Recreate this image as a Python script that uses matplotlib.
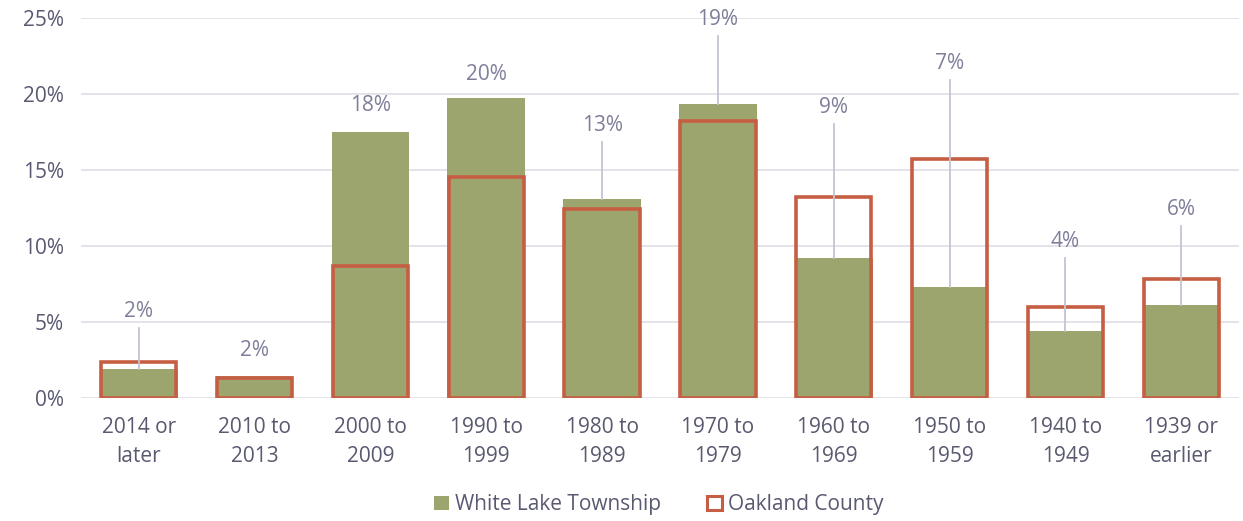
import numpy as np
import matplotlib
matplotlib.use("Agg")
import matplotlib.pyplot as plt
from matplotlib.patches import Patch

plt.rcParams['font.family'] = ['Open Sans', 'DejaVu Sans']

# data
categories = ["2014 or\nlater", "2010 to\n2013", "2000 to\n2009", "1990 to\n1999", "1980 to\n1989",
              "1970 to\n1979", "1960 to\n1969", "1950 to\n1959", "1940 to\n1949", "1939 or\nearlier"]
white_lake = [1.9, 1.45, 17.5, 19.7, 13.1, 19.3, 9.2, 7.3, 4.4, 6.1]
oakland = [2.4, 1.3, 8.7, 14.5, 12.4, 18.2, 13.2, 15.7, 6.0, 7.8]
value_labels = ["2%", "2%", "18%", "20%", "13%", "19%", "9%", "7%", "4%", "6%"]
# where the data labels sit (in % units)
label_heights = [5.7, 3.15, 19.2, 21.3, 17.9, 24.9, 19.1, 22.0, 10.3, 12.4]

GREEN = "#9CA56E"
RED = "#C55E42"
TEXT = "#595970"
LABEL = "#7E7E9A"
GRID = "#E2E0E8"
LEADER = "#C4C3D2"

fig = plt.figure(figsize=(12.43, 5.21), dpi=100)
ax = fig.add_axes([0.065, 0.236, 0.932, 0.73])

x = np.arange(len(categories))
width = 0.67
ax.bar(x, white_lake, width, color=GREEN, zorder=2)
ax.bar(x, oakland, width - 0.02, fill=False, edgecolor=RED, linewidth=2.6, zorder=3)

for xi, v, lab, ly in zip(x, white_lake, value_labels, label_heights):
    ax.text(xi, ly, lab, ha="center", va="center", fontsize=15, color=LABEL, zorder=5)
    top = ly - 1.1
    if top - v > 1.0:
        ax.plot([xi, xi], [v, top], color=LEADER, linewidth=1.3, zorder=4)

ax.set_xlim(-0.5, len(categories) - 0.5)
ax.set_ylim(0, 25)
ax.set_yticks(np.arange(0, 26, 5))
ax.set_yticklabels([f"{t}%" for t in range(0, 26, 5)])
ax.set_xticks(x)
ax.set_xticklabels(categories, linespacing=1.45)
ax.tick_params(axis="both", length=0, labelsize=15, colors=TEXT)
ax.tick_params(axis="x", pad=14)
ax.tick_params(axis="y", pad=12)
ax.grid(axis="y", color=GRID, linewidth=1.3, zorder=0)
ax.set_axisbelow(True)
for s in ax.spines.values():
    s.set_visible(False)

handles = [Patch(facecolor=GREEN, edgecolor="none", label="White Lake Township"),
           Patch(facecolor="white", edgecolor=RED, linewidth=2.2, label="Oakland County")]
fig.legend(handles=handles, loc="lower center", bbox_to_anchor=(0.53, -0.025), ncol=2,
           frameon=False, fontsize=15, labelcolor=TEXT, handlelength=0.7, handleheight=0.7,
           handletextpad=0.3, columnspacing=2.2)

fig.savefig("out.png", dpi=100)
